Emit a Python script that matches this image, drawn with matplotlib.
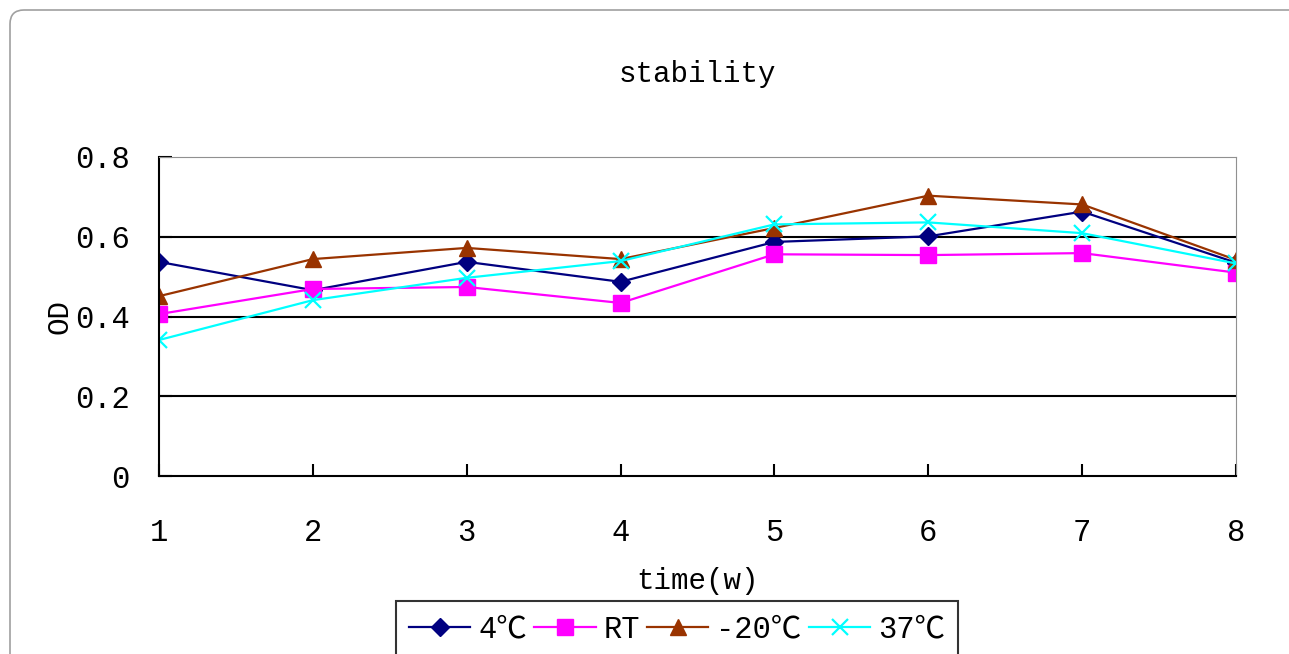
import numpy as np
import matplotlib.pyplot as plt
from matplotlib.patches import FancyBboxPatch
from matplotlib.transforms import IdentityTransform

# ==============================
# DATA
# ==============================

weeks = [1, 2, 3, 4, 5, 6, 7, 8]
od_4c = [0.537, 0.466, 0.537, 0.487, 0.587, 0.601, 0.663, 0.535]
od_rt = [0.406, 0.469, 0.474, 0.434, 0.556, 0.554, 0.559, 0.510]
od_m20c = [0.451, 0.544, 0.572, 0.544, 0.622, 0.703, 0.681, 0.542]
od_37c = [0.341, 0.441, 0.497, 0.539, 0.631, 0.636, 0.609, 0.533]
y_ticks = [0, 0.2, 0.4, 0.6, 0.8]
y_tick_labels = ["0", "0.2", "0.4", "0.6", "0.8"]

fam = ["Liberation Mono", "Noto Sans CJK SC", "DejaVu Sans"]
plt.rcParams["font.family"] = fam

# ==============================
# PLOT
# ==============================

fig = plt.figure(figsize=(12.89, 6.54), dpi=100)

# outer rounded frame (pixel coords, runs off right and bottom)
frame = FancyBboxPatch((10, -100), 1400, 654 - 10 + 100,
                       boxstyle="round,pad=0,rounding_size=14",
                       transform=IdentityTransform(), fill=False,
                       edgecolor="#a0a0a0", linewidth=1.2)
fig.patches.append(frame)

ax = fig.add_axes([159 / 1289, 1 - 476 / 654, (1236 - 159) / 1289, (476 - 157) / 654])

ax.plot(weeks, od_4c, color="#000080", marker="D", markersize=9, lw=1.6, label="4℃")
ax.plot(weeks, od_rt, color="#FF00FF", marker="s", markersize=11, lw=1.6, label="RT")
ax.plot(weeks, od_m20c, color="#993300", marker="^", markersize=11, lw=1.6, label="-20℃")
ax.plot(weeks, od_37c, color="#00FFFF", marker="x", markersize=12, mew=1.6, lw=1.6, label="37℃")

ax.set_xlim(1, 8)
ax.set_ylim(0, 0.8)
ax.set_xticks(weeks)
ax.set_yticks(y_ticks)
ax.set_yticklabels(y_tick_labels)

for yv in [0.2, 0.4, 0.6]:
    ax.axhline(yv, color="black", lw=1.5, zorder=0)

ax.spines["left"].set_linewidth(1.5)
ax.spines["bottom"].set_linewidth(1.5)
ax.spines["top"].set_color("#909090")
ax.spines["right"].set_color("#909090")
ax.tick_params(axis="both", direction="in", length=9, width=1.5, labelsize=22)
ax.tick_params(axis="x", pad=30)
ax.tick_params(axis="y", pad=21)

ax.set_title("stability", fontsize=21, pad=54)
ax.set_xlabel("time(w)", fontsize=21, labelpad=14)
ax.set_ylabel("OD", fontsize=21, labelpad=1)

leg = ax.legend(loc="upper center", bbox_to_anchor=((677 - 159) / (1236 - 159), -(601 - 476) / (476 - 157)),
                ncol=4, frameon=True, fancybox=False, fontsize=22,
                handlelength=2.0, handletextpad=0.25, columnspacing=0.25,
                borderaxespad=0, borderpad=0.45)
leg.get_frame().set_edgecolor("black")
leg.get_frame().set_linewidth(1.5)

plt.savefig("out.png", dpi=100)
